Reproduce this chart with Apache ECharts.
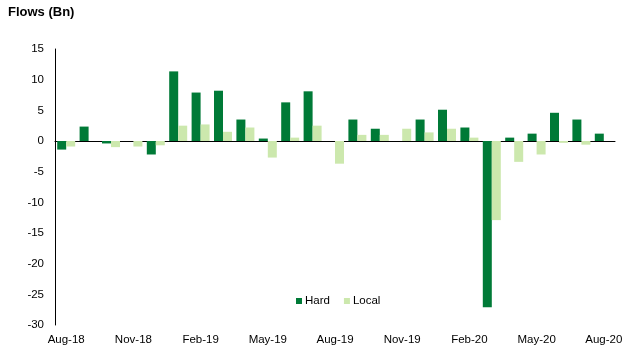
<!DOCTYPE html>
<html>
<head>
<meta charset="utf-8">
<script src="https://cdn.jsdelivr.net/npm/echarts@6/dist/echarts.min.js"></script>
<style>
  html, body { margin: 0; padding: 0; background: #fff; }
  #chart { width: 640px; height: 353px; }
</style>
</head>
<body>
<div id="chart"></div>
<script>
const months = ['Aug-18', 'Sep-18', 'Oct-18', 'Nov-18', 'Dec-18', 'Jan-19', 'Feb-19', 'Mar-19', 'Apr-19',
  'May-19', 'Jun-19', 'Jul-19', 'Aug-19', 'Sep-19', 'Oct-19', 'Nov-19', 'Dec-19', 'Jan-20', 'Feb-20',
  'Mar-20', 'Apr-20', 'May-20', 'Jun-20', 'Jul-20', 'Aug-20'];
const hard = [-1.4, 2.35, -0.4, 0, -2.2, 11.35, 7.9, 8.2, 3.5, 0.4, 6.3, 8.1, 0, 3.5, 2.0, 0, 3.5, 5.1, 2.2,
  -27.1, 0.55, 1.2, 4.6, 3.5, 1.2];
const local = [-0.9, 0, -1.0, -0.9, -0.7, 2.5, 2.7, 1.5, 2.2, -2.7, 0.55, 2.5, -3.7, 1.0, 1.0, 2.0, 1.4, 2.0, 0.55,
  -12.9, -3.4, -2.2, -0.3, -0.6, 0];

const font = 'Liberation Sans, Arial, sans-serif';
const chart = echarts.init(document.getElementById('chart'));

chart.setOption({
  animation: false,
  title: {
    text: 'Flows (Bn)',
    left: 3, top: 1,
    textStyle: { fontFamily: font, fontSize: 13, fontWeight: 'bold', color: '#000' }
  },
  legend: {
    data: ['Hard', 'Local'],
    left: 291, top: 290,
    icon: 'rect',
    itemWidth: 6, itemHeight: 6, itemGap: 14,
    textStyle: { fontFamily: font, fontSize: 11.5, color: '#000', padding: [0, 0, 0, -2] }
  },
  grid: { left: 55, right: 25, top: 49, bottom: 28 },
  xAxis: [
    {
      type: 'category',
      data: months,
      axisLine: { onZero: true, lineStyle: { color: '#000', width: 1 } },
      axisTick: { interval: 2, length: 4, lineStyle: { color: '#000' } },
      axisLabel: { show: false }
    },
    {
      type: 'category',
      data: months,
      position: 'bottom',
      axisLine: { show: false, onZero: false },
      axisTick: { show: false },
      axisLabel: { interval: 2, margin: 9, fontFamily: font, fontSize: 11.5, color: '#000' }
    }
  ],
  yAxis: {
    type: 'value',
    min: -30, max: 15, interval: 5,
    axisLine: { show: true, lineStyle: { color: '#000', width: 1 } },
    axisTick: { show: false },
    splitLine: { show: false },
    axisLabel: { margin: 11, fontFamily: font, fontSize: 11.5, color: '#000' }
  },
  series: [
    {
      name: 'Hard', type: 'bar', data: hard, xAxisIndex: 0,
      barWidth: 9, barGap: '0%',
      itemStyle: { color: '#007A37' }
    },
    {
      name: 'Local', type: 'bar', data: local, xAxisIndex: 0,
      barWidth: 9, barGap: '0%',
      itemStyle: { color: '#CCE8AD' }
    }
  ]
});
</script>
</body>
</html>
